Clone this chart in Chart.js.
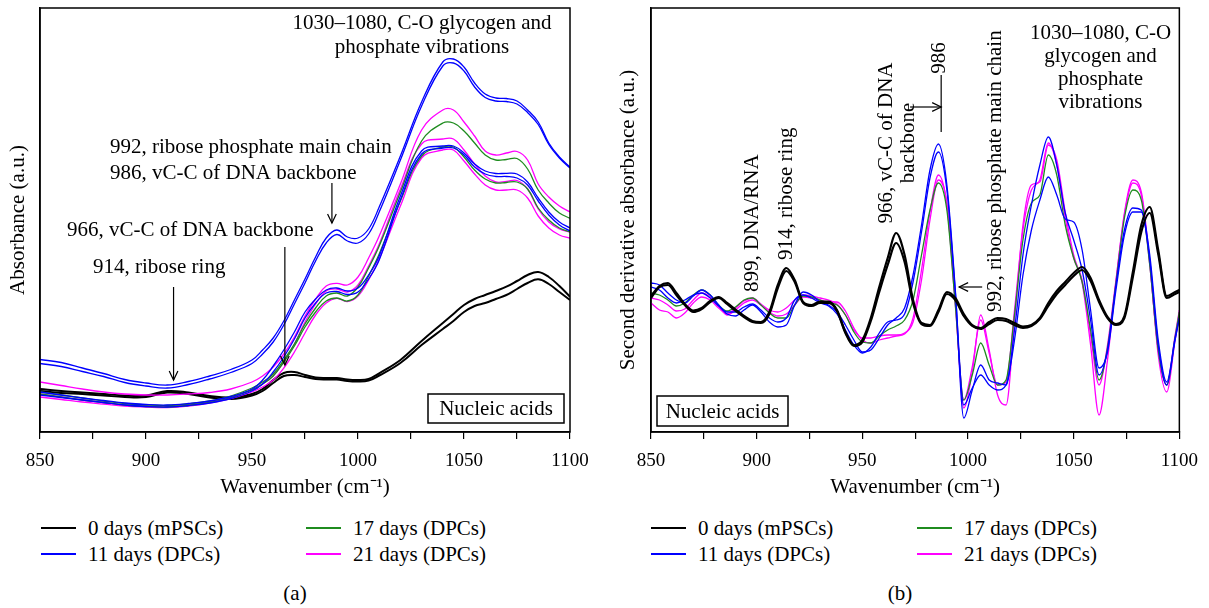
<!DOCTYPE html>
<html>
<head>
<meta charset="utf-8">
<script src="https://cdn.jsdelivr.net/npm/chart.js@4.4.0/dist/chart.umd.min.js"></script>
<style>
  body { margin: 0; background: #fff; }
  #page { position: relative; width: 1209px; height: 608px; font-family: "Liberation Serif", serif; font-size: 21px; color: #000; }
  canvas { position: absolute; top: 0; }
  .key { position: absolute; height: 26px; line-height: 26px; white-space: nowrap; }
  .key i { position: absolute; left: 0; top: 12px; width: 35px; height: 1.6px; }
  .key span { position: absolute; left: 47px; top: 0; }
  .cap { position: absolute; top: 579px; width: 40px; text-align: center; line-height: 28px; }
</style>
</head>
<body>
<div id="page">
  <canvas id="absorb" width="600" height="500" style="left:0"></canvas>
  <canvas id="deriv" width="609" height="500" style="left:600px"></canvas>
  <div class="cap" style="left:275px">(a)</div>
  <div class="cap" style="left:880px">(b)</div>
</div>
<script>
// groups shown in the legend
const groups = ['0 days (mPSCs)', '11 days (DPCs)', '17 days (DPCs)', '21 days (DPCs)'];
const groupColors = ['#000000', '#0000ff', '#1f8c1f', '#ff00ff'];

// (a) absorbance spectra, a.u.
const waveA = [850,860,870,880,890,900,910,920,930,940,950,955,960,965,970,975,980,985,990,995,1000,1005,1010,1020,1030,1040,1045,1050,1055,1060,1065,1070,1075,1080,1085,1090,1095,1100];
const absDay0a = [43,41,39.5,38,36.5,36.5,41,39.5,36,34.5, 38,43,52,59,60,57,54.5,54,54,52.5,52,53,58.7, 72,91, 109,118,127,133,137,141,145.3,151,157,160,155,146,135.3];
const absDay0b = [41,39,38,36.5,35,35,39.5,38,34.5,33, 36.5,41,49,56,57,55,53,52.5,52.5,51,50.5,51.5,56.5, 69,87, 103,111,120,126,129,133,137,143,149,152.7,148,140,132];
const absDay11a = [72.5,69.5,64,58.5,52.5,49,47,50.5,56,62.5, 72,82,94,111,132,153,175,194,202,195,194,203,225, 276,330, 370,373,365,349,338,334,333.5,331,322,310,289,275,265];
const absDay11b = [68.5,65.5,60.5,55.5,49.5,46,44,47.5,53,59.5, 68.5,78,90,107,128,149,171,189,197.5,191,189,198,220, 272,326, 366,369,361,345,334.5,331,330.5,328,319.5,307.5,287.5,274,264];
const absDay11c = [40,37,34,31.5,29,27.5,27,28.5,31,35.5, 43,52,66,82,100,120,133,142,144,141,144,157,176, 236,281, 286,286,279,268,261,258.5,258.7,258,250,234,220,210,204];
const absDay11d = [37,34.5,32,29.5,27,25.5,25,26.5,29,33.5, 41,48,60,75,93,114,129,139,140.5,137.5,140,153,172, 232,278, 284,284,277,265,258,255.5,255.5,254,247,231,217,207,201];
const absDay17a = [40,37,34,31,28.5,27,26.5,28,31,36, 44,50,58,72,88,108,124,136,139,136,145,164,186, 240,291, 309,309,301,289,277,272,272.5,273.5,263,242,229,219,213.7];
const absDay17b = [38,35,32,29.5,27,25.5,25,26.5,29.5,34.5, 42,48,56,70,86,105,120,131,134,131,137,156,178, 231,276, 285,285,275,262,253,249,249.5,250,243,224,212,204,200];
const absDay21a = [50,46.5,43,40,38,37,37,38,39.5,43, 50,56,65,78,95,116,133,146,148.7,147,155,174,196, 248,302, 322,322,310,296,281,277,279,280.5,272,248,235,226,220];
const absDay21b = [38,35,32,29.5,27,26,25.5,27,30,35, 42,48,56,70,88,110,128,141,143,140,147,166,188, 243,288, 293,293,282,268,256,250,250.5,251.5,243,223,210,203,200];
const absDay21c = [35,32.5,30,28,26,25,24.5,26,29,33.5, 40,45,52,64,80,99,117,129,133.7,130.5,136,152,173, 226,274, 282,282,271,258,247,242,242,242,234,216,204,197,193.7];

// (b) second derivative spectra, a.u.
const waveB = [850,854,858,862,866,870,874,878,882,886,890,894,898,902,906,910,914,918,922,926,930,934,938,942,946,950,954,958,962,966,970,974,978,982,986,990,994,998,1002,1006,1010,1014,1018,1022,1026,1030,1034,1038,1042,1046,1050,1054,1058,1062,1066,1070,1074,1078,1082,1086,1090,1094,1098,1100];
const d2Day0a = [136,146,149,139,128,121.5,124,131,135,129, 122.5,116,111,110,120,147,164,152,130,127, 130.5,130.5,122,100,87,92,114,145,174,199, 177,132,109,107,122,140,134,118,107,104, 110,114,113,109,105.5,107,114,129,141,150, 159,165,154,132,115,108,116,160,207,225, 182,136,140,142];
const d2Day0b = [134,145,147,137,127,120,123,130,134,128, 121,115,110,109,118,144,161,150,129,126, 129,129,121,99,86,90,111,140,167,189, 170,129,108,106,120,138,132,116,106,103, 108,112,111,107,104,106,113,126,138,147, 156,162,151,130,114,107,114,155,200,219, 178,134,138,140];
const d2Day11a = [149,147,139,132,129,136,142,137,127,118, 116,122,127,120,110,105,107,127,140,137, 130,127,120,107,92,80,82,94,107,114, 124,157,207,262,288,247,142,14,42,67, 52,49,47,102,177,227,267,295,267,219, 192,162,112,57,82,147,202,224,222,172, 87,47,92,114];
const d2Day11b = [145,142,134,129,132,137,139,134,126,120, 120,125,128,122,114,110,114,132,137,134, 129,126,118,102,87,79,85,99,110,112, 118,150,200,254,280,242,140,27,44,57, 47,42,47,92,157,202,232,255,237,213, 210,182,122,64,80,142,197,220,220,177, 92,50,94,114];
const d2Day17 = [139,137,132,126,129,137,142,137,127,121, 125,132,134,127,119,114,114,127,136,135, 132,129,127,117,100,90,89,96,102,106, 112,132,177,222,249,222,127,32,57,89, 67,47,52,117,192,229,237,277,257,207, 174,150,102,52,84,149,214,242,232,167, 82,47,95,120];
const d2Day21a = [134,132,127,121,123,132,139,135,126,117, 122,129,132,127,120,116,118,127,135,134, 132,130,130,121,104,92,89,92,94,96, 98,114,162,220,257,227,127,32,65,112, 79,47,50,122,202,242,252,289,267,214, 174,152,97,47,87,152,217,249,237,167, 82,47,97,122];
const d2Day21b = [129,122,120,114,119,129,135,132,124,118, 124,131,134,128,122,120,124,132,137,136, 134,132,128,117,102,94,94,96,97,97, 99,110,152,212,252,229,132,24,60,117, 82,37,27,112,207,247,250,287,272,220, 177,149,87,17,72,150,219,252,240,170, 77,40,92,117];

const tickFont = { family: '"Liberation Serif", serif', size: 19 };
const textFont = { family: '"Liberation Serif", serif', size: 21 };

function line(values, waves, group, width, smooth) {
  const ds = {
    label: groups[group],
    data: values.map((v, i) => ({ x: waves[i], y: v })),
    borderColor: groupColors[group],
    borderWidth: width,
    pointRadius: 0
  };
  if (smooth) ds.tension = 0.4;
  else ds.cubicInterpolationMode = 'monotone';
  return ds;
}

function scalesFor(yTitle, yWidth, yTitlePad) {
  return {
    x: {
      type: 'linear', min: 850, max: 1100,
      afterFit: s => { s.height = 68; },
      ticks: { stepSize: 25, autoSkip: false, maxRotation: 0, padding: 11, color: '#000', font: tickFont,
               callback: v => (v % 50 === 0 ? v : '') },
      grid: { drawOnChartArea: false, tickLength: 7, color: '#000', lineWidth: 1.2 },
      border: { color: '#000', width: 1.5 },
      title: { display: true, text: 'Wavenumber (cm⁻¹)', color: '#000', font: textFont, padding: { top: 0, bottom: 0 } }
    },
    y: {
      min: 0, max: 424,
      afterFit: s => { s.width = yWidth; },
      ticks: { display: false },
      grid: { display: false },
      border: { color: '#000', width: 1.5 },
      title: { display: true, text: yTitle, color: '#000', font: textFont, padding: { top: yTitlePad, bottom: 0 } }
    }
  };
}

function arrowHead(ctx, x1, y1, x2, y2) {
  const ang = Math.atan2(y2 - y1, x2 - x1), len = 10, spread = 0.45;
  ctx.beginPath();
  ctx.moveTo(x2 - len * Math.cos(ang - spread), y2 - len * Math.sin(ang - spread));
  ctx.lineTo(x2, y2);
  ctx.lineTo(x2 - len * Math.cos(ang + spread), y2 - len * Math.sin(ang + spread));
  ctx.stroke();
}

// frame round the plot, labels, arrows and the "Nucleic acids" box
const notesPlugin = {
  id: 'notes',
  afterDatasetsDraw(chart, args, opts) {
    const { ctx, chartArea: a, scales: { x, y } } = chart;
    ctx.save();
    ctx.strokeStyle = '#000';
    ctx.lineWidth = 1.5;
    ctx.strokeRect(a.left, a.top, a.right - a.left, a.bottom - a.top);

    ctx.fillStyle = '#000';
    ctx.font = '21px "Liberation Serif", serif';
    ctx.textBaseline = 'middle';
    opts.texts.forEach(t => {
      ctx.save();
      ctx.translate(x.getPixelForValue(t.x), y.getPixelForValue(t.y));
      if (t.rotate) ctx.rotate(-Math.PI / 2);
      ctx.textAlign = t.align;
      ctx.fillText(t.text, 0, 0);
      ctx.restore();
    });

    ctx.lineWidth = 1.2;
    opts.arrows.forEach(ar => {
      const x1 = x.getPixelForValue(ar.x1), y1 = y.getPixelForValue(ar.y1);
      const x2 = x.getPixelForValue(ar.x2), y2 = y.getPixelForValue(ar.y2);
      ctx.beginPath();
      ctx.moveTo(x1, y1);
      ctx.lineTo(x2, y2);
      ctx.stroke();
      if (ar.head) arrowHead(ctx, x1, y1, x2, y2);
    });

    const b = opts.box;
    const bx = b.side === 'right' ? a.right - b.dx - b.w : a.left + b.dx;
    const by = a.bottom - b.dy - b.h;
    ctx.fillStyle = '#fff';
    ctx.fillRect(bx, by, b.w, b.h);
    ctx.lineWidth = 1.5;
    ctx.strokeRect(bx, by, b.w, b.h);
    ctx.fillStyle = '#000';
    ctx.textAlign = 'center';
    ctx.fillText('Nucleic acids', bx + b.w / 2, by + b.h / 2 + 1);
    ctx.restore();
  }
};

const common = {
  responsive: false,
  animation: false,
  events: []
};

new Chart(document.getElementById('absorb'), {
  type: 'line',
  data: {
    datasets: [
      line(absDay11a, waveA, 1, 1.3, true), line(absDay11b, waveA, 1, 1.3, true),
      line(absDay11c, waveA, 1, 1.3, true), line(absDay11d, waveA, 1, 1.3, true),
      line(absDay17a, waveA, 2, 1.3, true), line(absDay17b, waveA, 2, 1.3, true),
      line(absDay21a, waveA, 3, 1.3, true), line(absDay21b, waveA, 3, 1.3, true), line(absDay21c, waveA, 3, 1.3, true),
      line(absDay0a, waveA, 0, 2, true), line(absDay0b, waveA, 0, 2, true)
    ]
  },
  options: {
    ...common,
    layout: { padding: { left: 0, right: 30, top: 8, bottom: 0 } },
    scales: scalesFor('Absorbance (a.u.)', 40, 6),
    plugins: {
      legend: { display: false },
      tooltip: { enabled: false },
      notes: {
        texts: [
          { text: '1030–1080, C-O glycogen and', x: 1030.2, y: 409, align: 'center' },
          { text: 'phosphate vibrations', x: 1030.2, y: 385, align: 'center' },
          { text: '992, ribose phosphate main chain', x: 883, y: 285, align: 'left' },
          { text: '986, vC-C of DNA backbone', x: 883, y: 259, align: 'left' },
          { text: '966, vC-C of DNA backbone', x: 862.7, y: 202, align: 'left' },
          { text: '914, ribose ring', x: 875, y: 165, align: 'left' }
        ],
        arrows: [
          { x1: 987.7, y1: 249, x2: 987.7, y2: 209, head: true },
          { x1: 965.5, y1: 185, x2: 965.5, y2: 67, head: true },
          { x1: 913, y1: 145, x2: 913, y2: 52, head: true }
        ],
        box: { side: 'right', dx: 6, dy: 9, w: 136, h: 29 }
      }
    }
  },
  plugins: [notesPlugin]
});

new Chart(document.getElementById('deriv'), {
  type: 'line',
  data: {
    datasets: [
      line(d2Day0a, waveB, 0, 2.2), line(d2Day0b, waveB, 0, 2.2),
      line(d2Day11a, waveB, 1, 1.3), line(d2Day11b, waveB, 1, 1.3),
      line(d2Day17, waveB, 2, 1.3),
      line(d2Day21a, waveB, 3, 1.3), line(d2Day21b, waveB, 3, 1.3)
    ]
  },
  options: {
    ...common,
    layout: { padding: { left: 0, right: 28, top: 8, bottom: 0 } },
    scales: scalesFor('Second derivative absorbance (a.u.)', 51, 16),
    plugins: {
      legend: { display: false },
      tooltip: { enabled: false },
      notes: {
        texts: [
          { text: '899, DNA/RNA', x: 898.1, y: 140, align: 'left', rotate: true },
          { text: '914, ribose ring', x: 914.2, y: 172, align: 'left', rotate: true },
          { text: '966, vC-C of DNA', x: 961.6, y: 289, align: 'center', rotate: true },
          { text: 'backbone', x: 971.7, y: 289, align: 'center', rotate: true },
          { text: '986', x: 986.5, y: 374, align: 'center', rotate: true },
          { text: '992, ribose phosphate main chain', x: 1012.8, y: 120, align: 'left', rotate: true },
          { text: '1030–1080, C-O', x: 1062.7, y: 399, align: 'center' },
          { text: 'glycogen and', x: 1062.7, y: 376, align: 'center' },
          { text: 'phosphate', x: 1062.7, y: 353, align: 'center' },
          { text: 'vibrations', x: 1062.7, y: 330, align: 'center' }
        ],
        arrows: [
          { x1: 987.3, y1: 357, x2: 987.3, y2: 300, head: false },
          { x1: 972.6, y1: 325, x2: 987.3, y2: 325, head: true },
          { x1: 1006.7, y1: 145, x2: 995.8, y2: 145, head: true }
        ],
        box: { side: 'left', dx: 6, dy: 6, w: 131, h: 30 }
      }
    }
  },
  plugins: [notesPlugin]
});

// legends under each panel, built from the group arrays
const page = document.getElementById('page');
[[41, 306], [651, 917]].forEach(cols => {
  groups.forEach((g, i) => {
    const el = document.createElement('div');
    el.className = 'key';
    el.style.left = cols[Math.floor(i / 2)] + 'px';
    el.style.top = (515 + (i % 2) * 26) + 'px';
    el.innerHTML = '<i style="background:' + groupColors[i] + '"></i><span>' + g + '</span>';
    page.appendChild(el);
  });
});
</script>
</body>
</html>
